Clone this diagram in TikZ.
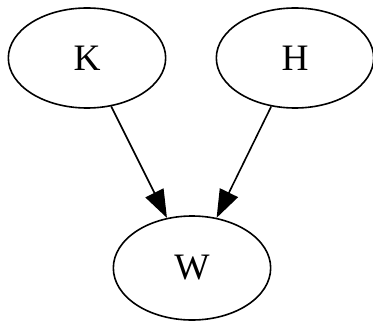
\documentclass[tikz,border=0pt]{standalone}
\usepackage{fontspec}
\setmainfont{Liberation Serif}
\usetikzlibrary{shapes.geometric,arrows.meta}

\tikzset{
  var/.style={draw,ellipse,line width=1.2pt,inner sep=0pt,
    minimum width=118pt,minimum height=75pt,
    font=\fontsize{28}{30}\selectfont},
  edge/.style={line width=1.2pt,-{Triangle[length=21pt,width=15pt]}}
}

\begin{document}
\begin{tikzpicture}[x=0.75pt,y=0.75pt]
\useasboundingbox (0,0) rectangle (373,321);

\node[var] (K) at (87,263) {K};
\node[var] (H) at (295,263) {H};
\node[var,minimum height=78pt] (W) at (192,53) {W};

\draw[edge] (K) -- (W);
\draw[edge] (H) -- (W);
\end{tikzpicture}
\end{document}
